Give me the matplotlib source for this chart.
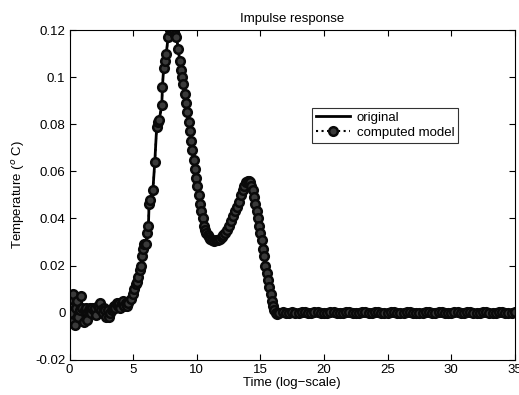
import matplotlib
matplotlib.use("Agg")
import matplotlib.pyplot as plt

plt.rcParams['font.family'] = ['Liberation Sans', 'DejaVu Sans']

# noisy baseline, rise, main peak, second bump, decay
t_head = [0.0, 0.05, 0.1, 0.2, 0.3, 0.4, 0.5, 0.6, 0.7, 0.8, 0.9, 1.0, 1.1, 1.2, 1.3, 1.4,
          1.5, 1.6, 1.7, 1.8, 1.9, 2.0, 2.1, 2.2, 2.3, 2.4, 2.5, 2.6, 2.7, 2.8, 2.9,
          3.0, 3.1, 3.2, 3.3, 3.4, 3.5, 3.6, 3.7, 3.8, 3.9, 4.0, 4.1, 4.2, 4.3, 4.4, 4.5,
          4.6, 4.8, 5.0, 5.1, 5.2, 5.3, 5.4, 5.5, 5.6, 5.7, 5.75, 5.85, 6.0, 6.1, 6.2,
          6.25, 6.35, 6.55, 6.7, 6.85, 6.95, 7.05, 7.25, 7.3, 7.4, 7.5, 7.6, 7.75, 7.9,
          8.0, 8.1, 8.2, 8.3, 8.4, 8.55, 8.65, 8.75, 8.85, 8.95, 9.05, 9.15, 9.25, 9.35,
          9.45, 9.55, 9.65, 9.75, 9.85, 9.95, 10.05, 10.15, 10.25, 10.35, 10.45, 10.55,
          10.65, 10.75, 10.85, 10.95, 11.05, 11.2, 11.35, 11.5, 11.65, 11.8, 11.95, 12.1,
          12.25, 12.4, 12.55, 12.7, 12.85, 13.0, 13.15, 13.3, 13.45, 13.6, 13.75, 13.9,
          14.0, 14.1, 14.2, 14.3, 14.4, 14.5, 14.6, 14.7, 14.8, 14.9, 15.0, 15.1, 15.2,
          15.3, 15.4, 15.5, 15.6, 15.7, 15.8, 15.9, 16.0, 16.1, 16.2, 16.3]
v_head = [0.004, 0.0, -0.004, 0.006, 0.008, -0.005, 0.002, 0.005, -0.002, 0.001, 0.007,
          0.002, -0.004, 0.001, 0.002, -0.003, 0.001, 0.002, 0.0, 0.002, 0.001, 0.002,
          -0.001, 0.003, 0.002, 0.004, 0.001, 0.0, 0.002, 0.001, -0.002, 0.001, -0.002,
          0.0, 0.001, 0.002, 0.003, 0.002, 0.004, 0.003, 0.004, 0.002, 0.004, 0.005,
          0.003, 0.004, 0.003,
          0.004, 0.006, 0.008, 0.010, 0.012, 0.013, 0.015, 0.018, 0.020, 0.024, 0.027,
          0.029, 0.029, 0.034, 0.037, 0.046, 0.048, 0.052, 0.064, 0.079, 0.081, 0.082,
          0.088, 0.096, 0.104, 0.107, 0.110, 0.117, 0.120, 0.121, 0.121, 0.120, 0.118,
          0.117, 0.112, 0.107, 0.103, 0.100, 0.097, 0.093, 0.089, 0.085, 0.081, 0.077,
          0.073, 0.069, 0.065, 0.061, 0.057, 0.054, 0.050, 0.046, 0.043, 0.040, 0.037,
          0.035, 0.034, 0.033, 0.032, 0.0315, 0.031, 0.0305, 0.031, 0.031, 0.0315, 0.032,
          0.033, 0.034, 0.035, 0.037, 0.039, 0.041, 0.043, 0.045, 0.047, 0.050, 0.052,
          0.054, 0.0555, 0.056, 0.056, 0.0555, 0.054, 0.052, 0.049, 0.046, 0.043, 0.040,
          0.037, 0.034, 0.031, 0.027, 0.024, 0.020, 0.017, 0.014, 0.011, 0.008, 0.005,
          0.003, 0.001, 0.0, -0.0005]

# flat tail
t_tail = [16.5, 16.75, 17.0, 17.25, 17.5, 17.75, 18.0, 18.25, 18.5, 18.75, 19.0, 19.25,
          19.5, 19.75, 20.0, 20.25, 20.5, 20.75, 21.0, 21.25, 21.5, 21.75, 22.0, 22.25,
          22.5, 22.75, 23.0, 23.25, 23.5, 23.75, 24.0, 24.25, 24.5, 24.75, 25.0, 25.25,
          25.5, 25.75, 26.0, 26.25, 26.5, 26.75, 27.0, 27.25, 27.5, 27.75, 28.0, 28.25,
          28.5, 28.75, 29.0, 29.25, 29.5, 29.75, 30.0, 30.25, 30.5, 30.75, 31.0, 31.25,
          31.5, 31.75, 32.0, 32.25, 32.5, 32.75, 33.0, 33.25, 33.5, 33.75, 34.0, 34.25,
          34.5, 34.75, 35.0]
v_tail = [0.0, 0.0003, 0.0, -0.0003, 0.0002, 0.0, -0.0002, 0.0003, 0.0001, -0.0003, 0.0,
          0.0002, 0.0003, -0.0001, -0.0003, 0.0, 0.0002, 0.0001, -0.0002, -0.0003, 0.0,
          0.0003, 0.0002, -0.0001, -0.0003, 0.0, 0.0002, 0.0001, -0.0002, 0.0, 0.0003,
          0.0001, -0.0002, -0.0003, 0.0, 0.0002, 0.0003, 0.0, -0.0002, 0.0, 0.0002,
          0.0003, 0.0, -0.0002, -0.0003, 0.0, 0.0002, 0.0001, -0.0002, 0.0, 0.0003,
          0.0002, -0.0001, -0.0003, 0.0, 0.0002, 0.0001, -0.0002, 0.0, 0.0003, 0.0001,
          -0.0002, -0.0003, 0.0, 0.0002, 0.0003, 0.0, -0.0002, 0.0, 0.0002, 0.0003,
          0.0, -0.0002, 0.0, 0.0002]

time = t_head + t_tail
temp = v_head + v_tail

y_ticks = [-0.02, 0, 0.02, 0.04, 0.06, 0.08, 0.1, 0.12]
y_labels = ['-0.02', '0', '0.02', '0.04', '0.06', '0.08', '0.1', '0.12']
x_ticks = [0, 5, 10, 15, 20, 25, 30, 35]

fig = plt.figure(figsize=(5.19, 3.95), dpi=100)
ax = fig.add_axes([0.134, 0.089, 0.858, 0.835])

ax.plot(time, temp, '-', color='black', lw=2, label='original')
ax.plot(time, temp, ':o', color='black', lw=1.5, markersize=6.2,
        markerfacecolor='#3a3a3a', markeredgecolor='#0a0a0a', markeredgewidth=1.8,
        label='computed model')

ax.set_xlim(0, 35)
ax.set_ylim(-0.02, 0.12)
ax.set_xticks(x_ticks)
ax.set_yticks(y_ticks)
ax.set_yticklabels(y_labels)
ax.tick_params(direction='in', top=True, right=True, labelsize=9.5, length=4, pad=3)
for s in ax.spines.values():
    s.set_linewidth(0.8)

ax.set_title('Impulse response', fontsize=9.5, pad=6)
ax.set_xlabel('Time (log\u2212scale)', fontsize=9.5, labelpad=1)
ax.set_ylabel('Temperature ($^o$ C)', fontsize=9.5, labelpad=6)

leg = ax.legend(loc='upper left', bbox_to_anchor=(0.544, 0.764), fontsize=9.5,
                frameon=True, fancybox=False, edgecolor='black', handlelength=2.6,
                borderpad=0.3, labelspacing=0.2, handletextpad=0.5, borderaxespad=0)
leg.get_frame().set_linewidth(0.8)

fig.savefig('out.png', dpi=100)
